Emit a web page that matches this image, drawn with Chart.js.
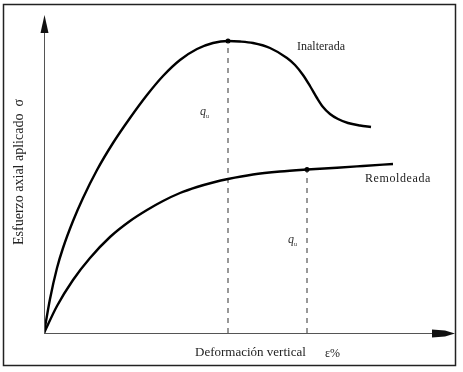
<!DOCTYPE html>
<html>
<head>
<meta charset="utf-8">
<script src="https://cdn.jsdelivr.net/npm/chart.js@4.4.1/dist/chart.umd.min.js"></script>
<style>
html,body{margin:0;padding:0;background:#fff;}
canvas{display:block;}
</style>
</head>
<body>
<canvas id="c" width="463" height="372"></canvas>
<script>
// Deformación vertical (x) and Esfuerzo axial (y) (arbitrary units)
const inalteradaX = [0, 6, 13, 19, 29, 39, 53, 69, 86, 103, 119, 136, 153, 169, 184, 196, 209, 226, 243, 251, 259, 266, 273, 279, 286, 294, 304, 316, 327];
const inalteradaY = [0, 34, 65, 85, 112, 135, 163, 190, 215, 238, 257, 273, 284, 290, 292, 291.5, 290, 285, 275, 268, 258, 247, 235, 226, 219, 214, 210, 207.5, 206];
const remoldeadaX = [0, 13, 29, 46, 66, 86, 103, 119, 136, 153, 169, 184, 209, 236, 263, 293, 319, 349];
const remoldeadaY = [0, 27, 53, 75, 96, 112, 123, 132, 140, 146, 150.5, 154, 158.5, 161.5, 163.5, 165.3, 167, 169];
// peak (q_u) points
const quInalterada = {x: 184, y: 292};
const quRemoldeada = {x: 263, y: 163.5};
// axis ranges
const xMax = 411;
const yMax = 318;
// texts
const curveLabels = ["Inalterada", "Remoldeada"];
const xTitle = "Deformación vertical";
const xTitleUnit = "ε%";
const yTitle = "Esfuerzo axial aplicado  σ";

const toPts = (xs, ys) => xs.map((x, i) => ({x: x, y: ys[i]}));

const decor = {
  id: 'decor',
  beforeDraw(chart) {
    const ctx = chart.ctx;
    ctx.save();
    ctx.fillStyle = '#fff';
    ctx.fillRect(0, 0, chart.width, chart.height);
    ctx.restore();
  },
  afterDatasetsDraw(chart) {
    const ctx = chart.ctx;
    const xs = chart.scales.x, ys = chart.scales.y;
    const x0 = xs.getPixelForValue(0), y0 = ys.getPixelForValue(0);
    const xEnd = xs.getPixelForValue(xMax), yEnd = ys.getPixelForValue(yMax);
    ctx.save();
    // frame
    ctx.strokeStyle = '#222';
    ctx.lineWidth = 1.5;
    ctx.strokeRect(3.5, 4.5, 452, 361);
    // axes
    ctx.strokeStyle = '#555';
    ctx.lineWidth = 1;
    ctx.beginPath();
    ctx.moveTo(x0 + 0.5, y0);
    ctx.lineTo(x0 + 0.5, yEnd + 18);
    ctx.moveTo(x0, y0 + 0.5);
    ctx.lineTo(xEnd - 22, y0 + 0.5);
    ctx.stroke();
    // arrowheads
    ctx.fillStyle = '#111';
    ctx.beginPath();
    ctx.moveTo(x0 + 0.5, yEnd);
    ctx.lineTo(x0 + 4.5, yEnd + 18);
    ctx.lineTo(x0 - 3.5, yEnd + 18);
    ctx.closePath();
    ctx.fill();
    ctx.beginPath();
    ctx.moveTo(xEnd, y0 + 0.5);
    ctx.lineTo(xEnd - 10, y0 - 2.5);
    ctx.lineTo(xEnd - 23, y0 - 3.5);
    ctx.lineTo(xEnd - 23, y0 + 4.5);
    ctx.lineTo(xEnd - 10, y0 + 3.5);
    ctx.closePath();
    ctx.fill();
    // curve labels
    ctx.fillStyle = '#222';
    ctx.textBaseline = 'middle';
    ctx.textAlign = 'left';
    ctx.font = '12px "Liberation Serif"';
    ctx.fillText(curveLabels[0], xs.getPixelForValue(253), ys.getPixelForValue(286));
    ctx.letterSpacing = '0.6px';
    ctx.fillText(curveLabels[1], xs.getPixelForValue(321), ys.getPixelForValue(154));
    ctx.letterSpacing = '0px';
    // q_u labels
    const drawQu = (px, py) => {
      ctx.font = 'italic 12px "Liberation Serif"';
      ctx.fillStyle = '#333';
      ctx.fillText('q', px, py);
      ctx.font = '6px "Liberation Serif"';
      ctx.fillText('u', px + 6, py + 4);
    };
    drawQu(xs.getPixelForValue(156), ys.getPixelForValue(221));
    drawQu(xs.getPixelForValue(244), ys.getPixelForValue(93));
    // axis titles
    ctx.fillStyle = '#222';
    ctx.font = '13px "Liberation Serif"';
    ctx.textAlign = 'left';
    ctx.fillText(xTitle, 195, 353);
    ctx.font = '12px "Liberation Serif"';
    ctx.fillText(xTitleUnit, 325, 354);
    ctx.save();
    ctx.translate(19, 172);
    ctx.rotate(-Math.PI / 2);
    ctx.textAlign = 'center';
    ctx.font = '14px "Liberation Serif"';
    ctx.fillText(yTitle, 0, 0);
    ctx.restore();
    ctx.restore();
  }
};

new Chart(document.getElementById('c'), {
  type: 'line',
  data: {
    datasets: [
      {
        label: curveLabels[0],
        data: toPts(inalteradaX, inalteradaY),
        borderColor: '#000',
        borderWidth: 2.4,
        pointRadius: 0,
        cubicInterpolationMode: 'monotone',
        fill: false
      },
      {
        label: curveLabels[1],
        data: toPts(remoldeadaX, remoldeadaY),
        borderColor: '#000',
        borderWidth: 2.4,
        pointRadius: 0,
        cubicInterpolationMode: 'monotone',
        fill: false
      },
      {
        label: 'qu1',
        data: [{x: quInalterada.x, y: 0}, {x: quInalterada.x, y: quInalterada.y}],
        borderColor: '#333',
        borderWidth: 1,
        borderDash: [5, 5],
        pointRadius: 0,
        tension: 0
      },
      {
        label: 'qu2',
        data: [{x: quRemoldeada.x, y: 0}, {x: quRemoldeada.x, y: quRemoldeada.y}],
        borderColor: '#333',
        borderWidth: 1,
        borderDash: [5, 5],
        pointRadius: 0,
        tension: 0
      },
      {
        label: 'peaks',
        data: [quInalterada, quRemoldeada],
        showLine: false,
        pointRadius: 2.5,
        pointBackgroundColor: '#000',
        pointBorderColor: '#000',
        pointBorderWidth: 0
      }
    ]
  },
  options: {
    responsive: false,
    devicePixelRatio: 1,
    animation: false,
    events: [],
    layout: {padding: {left: 44, top: 15, right: 8, bottom: 39}},
    plugins: {legend: {display: false}, tooltip: {enabled: false}},
    scales: {
      x: {type: 'linear', min: 0, max: xMax, display: false},
      y: {type: 'linear', min: 0, max: yMax, display: false}
    }
  },
  plugins: [decor]
});
</script>
</body>
</html>
